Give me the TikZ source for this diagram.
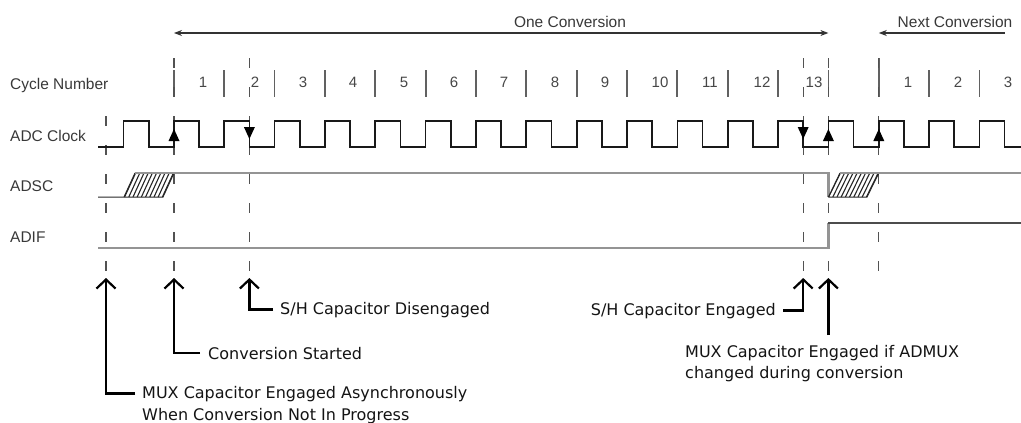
\documentclass[tikz,border=0pt]{standalone}
\usepackage{fontspec}
\setmainfont{Liberation Sans}
\newfontfamily\vfont{DejaVu Sans}
\usetikzlibrary{arrows.meta}
\begin{document}
\begin{tikzpicture}[x=1pt,y=-1pt,
  lbl/.style={font=\fontsize{15.5}{18}\selectfont, text=black!78, inner sep=0pt},
  num/.style={font=\fontsize{15}{18}\selectfont, text=black!72, inner sep=0pt},
  note/.style={font=\vfont\fontsize{16}{20}\selectfont, text=black!92, inner sep=0pt},
  clk/.style={line width=1.7pt, black!90},
  sig/.style={line width=2.6pt, black!42},
  sep/.style={line width=1.8pt, black!62},
  dsh/.style={line width=1.3pt, black!68, dash pattern=on 10pt off 19pt},
  span/.style={line width=1.2pt, black!80},
  stl/.tip={Stealth[length=8pt,width=6pt]},
  callout/.style={line width=2.2pt, black, -{Straight Barb[length=9pt,width=19pt]}},
  hatch/.style={line width=1.1pt, black!85},
]
\useasboundingbox (0,0) rectangle (1021,423);

% row labels
\node[lbl, anchor=base west] (lcyc) at (10,89) {Cycle Number};
\node[lbl, anchor=base west] (lclk) at (10,141.5) {ADC Clock};
\node[lbl, anchor=base west] (ladsc) at (10,191.5) {ADSC};
\node[lbl, anchor=base west] (ladif) at (10,242.5) {ADIF};

% conversion spans
\coordinate (oc1) at (174,33);
\coordinate (oc2) at (828.4,33);
\draw[span, stl-stl] (oc1) -- (oc2);
\node[lbl, anchor=base] (one) at (570,27.3) {One Conversion};
\coordinate (nc1) at (878.8,33);
\coordinate (nc2) at (1005,33);
\draw[span, stl-] (nc1) -- (nc2);
\node[lbl, anchor=base] (next) at (955,27.3) {Next Conversion};

% cycle numbers
\foreach \x/\t [count=\i] in {203/1,255/2,303/3,353/4,404/5,454/6,504/7,555/8,605/9,660/10,710/11,762/12,814/13,908/1,958/2,1008/3}
  \node[num, anchor=base] (c\i) at (\x,87.5) {\t};

% cycle separators
\foreach \k in {1,...,14,16,17}
  \draw[sep] ({123.5+50.35*\k},70) -- ({123.5+50.35*\k},97);
\draw[sep] (878.8,58) -- (878.8,97);

% dashed event lines
\foreach \x in {174,249.4,803.2,828.4,878.8}
  \draw[dsh] (\x,58) -- (\x,272);
\draw[dsh] (106,116) -- (106,272);

% ADC clock
\draw[clk] (98,147) \foreach \k in {0,...,17}{
  -- ({123.5+50.35*\k},147) -- ({123.5+50.35*\k},121)
  -- ({148.67+50.35*\k},121) -- ({148.67+50.35*\k},147)} -- (1021,147);

% clock edge markers
\foreach \x in {174,828.4,878.8}
  \fill[black] (\x,129) -- (\x-5.5,141) -- (\x+5.5,141) -- cycle;
\foreach \x in {249.4,803.2}
  \fill[black] (\x,139) -- (\x-5.5,127) -- (\x+5.5,127) -- cycle;

% ADSC
\begin{scope}
  \clip (124,197) -- (163,197) -- (174,173) -- (135,173) -- cycle;
  \foreach \x in {112,116.2,...,172}
    \draw[hatch] (\x,197) -- (\x+11,173);
\end{scope}
\draw[line width=1pt, black!85] (98,197) -- (163,197) -- (174,173);
\draw[line width=1pt, black!85] (124,197) -- (135,173);
\draw[sig] (135,173) -- (828.4,173) -- (828.4,197);
\begin{scope}
  \clip (828.4,197) -- (867,197) -- (878.8,173) -- (840,173) -- cycle;
  \foreach \x in {816,820.2,...,876}
    \draw[hatch] (\x,197) -- (\x+11.8,173);
\end{scope}
\draw[line width=1pt, black!85] (828.4,197) -- (867,197) -- (878.8,173);
\draw[line width=1pt, black!85] (828.4,197) -- (840,173);
\draw[sig] (840,173) -- (1021,173);

% ADIF
\draw[sig] (98,248) -- (828.4,248) -- (828.4,223);
\draw[line width=1.8pt, black!70] (828.4,223) -- (1021,223);

% callouts
\coordinate (t1) at (106,278);
\coordinate (t2) at (174,278);
\coordinate (t3) at (249.4,278);
\coordinate (t4) at (803.2,278);
\coordinate (t5) at (828.4,278);
\coordinate (b5) at (828.4,335);

\node[note, anchor=base west] (n1) at (142,398) {MUX Capacitor Engaged Asynchronously};
\node[note, anchor=base west] (n1b) at (142,420) {When Conversion Not In Progress};
\node[note, anchor=base west] (n2) at (208,359) {Conversion Started};
\node[note, anchor=base west] (n3) at (280,314) {S/H Capacitor Disengaged};
\node[note, anchor=base east] (n4) at (776,315) {S/H Capacitor Engaged};
\node[note, anchor=base west] (n5) at (685,357) {MUX Capacitor Engaged if ADMUX};
\node[note, anchor=base west] (n5b) at (685,378) {changed during conversion};

\draw[callout] ([xshift=-7pt]n1.west) -| (t1);
\draw[callout] ([xshift=-8pt]n2.west) -| (t2);
\draw[callout] ([xshift=-7pt]n3.west) -| (t3);
\draw[callout] ([xshift=7pt]n4.east) -| (t4);
\draw[callout] (b5) -- (t5);
\end{tikzpicture}
\end{document}
